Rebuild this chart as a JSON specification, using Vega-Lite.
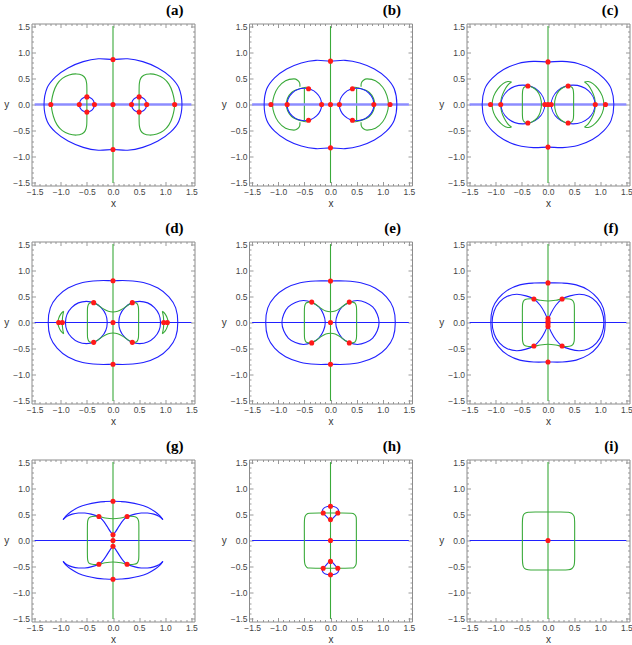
{
"$schema":"https://vega.github.io/schema/vega-lite/v6.json",
"padding":{"left":3.5,"top":2.5,"right":0,"bottom":0},
"data":{"values":[
{"p":"a","s":"h","k":3,"l":0,"x":-1.5,"y":0},{"p":"a","s":"h","k":3,"l":0,"x":1.5,"y":0},
{"p":"a","s":"v","k":2,"l":0,"x":0,"y":-1.5},{"p":"a","s":"v","k":2,"l":0,"x":0,"y":1.5},
{"p":"a","s":"o","k":1,"l":1,"x":1.32,"y":0},{"p":"a","s":"o","k":1,"l":1,"x":1.26,"y":0.32},{"p":"a","s":"o","k":1,"l":1,"x":1.10,"y":0.53},{"p":"a","s":"o","k":1,"l":1,"x":0.86,"y":0.70},{"p":"a","s":"o","k":1,"l":1,"x":0.57,"y":0.82},{"p":"a","s":"o","k":1,"l":1,"x":0.28,"y":0.875},{"p":"a","s":"o","k":1,"l":1,"x":0,"y":0.86},{"p":"a","s":"o","k":1,"l":1,"x":-0.28,"y":0.875},{"p":"a","s":"o","k":1,"l":1,"x":-0.57,"y":0.82},{"p":"a","s":"o","k":1,"l":1,"x":-0.86,"y":0.70},{"p":"a","s":"o","k":1,"l":1,"x":-1.10,"y":0.53},{"p":"a","s":"o","k":1,"l":1,"x":-1.26,"y":0.32},{"p":"a","s":"o","k":1,"l":1,"x":-1.32,"y":0},{"p":"a","s":"o","k":1,"l":1,"x":-1.26,"y":-0.32},{"p":"a","s":"o","k":1,"l":1,"x":-1.10,"y":-0.53},{"p":"a","s":"o","k":1,"l":1,"x":-0.86,"y":-0.70},{"p":"a","s":"o","k":1,"l":1,"x":-0.57,"y":-0.82},{"p":"a","s":"o","k":1,"l":1,"x":-0.28,"y":-0.875},{"p":"a","s":"o","k":1,"l":1,"x":0,"y":-0.86},{"p":"a","s":"o","k":1,"l":1,"x":0.28,"y":-0.875},{"p":"a","s":"o","k":1,"l":1,"x":0.57,"y":-0.82},{"p":"a","s":"o","k":1,"l":1,"x":0.86,"y":-0.70},{"p":"a","s":"o","k":1,"l":1,"x":1.10,"y":-0.53},{"p":"a","s":"o","k":1,"l":1,"x":1.26,"y":-0.32},
{"p":"a","s":"c1","k":1,"l":1,"x":-0.355,"y":0},{"p":"a","s":"c1","k":1,"l":1,"x":-0.374,"y":0.0725},{"p":"a","s":"c1","k":1,"l":1,"x":-0.4275,"y":0.1256},{"p":"a","s":"c1","k":1,"l":1,"x":-0.5,"y":0.145},{"p":"a","s":"c1","k":1,"l":1,"x":-0.5725,"y":0.1256},{"p":"a","s":"c1","k":1,"l":1,"x":-0.626,"y":0.0725},{"p":"a","s":"c1","k":1,"l":1,"x":-0.645,"y":0},{"p":"a","s":"c1","k":1,"l":1,"x":-0.626,"y":-0.0725},{"p":"a","s":"c1","k":1,"l":1,"x":-0.5725,"y":-0.1256},{"p":"a","s":"c1","k":1,"l":1,"x":-0.5,"y":-0.145},{"p":"a","s":"c1","k":1,"l":1,"x":-0.4275,"y":-0.1256},{"p":"a","s":"c1","k":1,"l":1,"x":-0.374,"y":-0.0725},
{"p":"a","s":"c2","k":1,"l":1,"x":0.645,"y":0},{"p":"a","s":"c2","k":1,"l":1,"x":0.626,"y":0.0725},{"p":"a","s":"c2","k":1,"l":1,"x":0.5725,"y":0.1256},{"p":"a","s":"c2","k":1,"l":1,"x":0.5,"y":0.145},{"p":"a","s":"c2","k":1,"l":1,"x":0.4275,"y":0.1256},{"p":"a","s":"c2","k":1,"l":1,"x":0.374,"y":0.0725},{"p":"a","s":"c2","k":1,"l":1,"x":0.355,"y":0},{"p":"a","s":"c2","k":1,"l":1,"x":0.374,"y":-0.0725},{"p":"a","s":"c2","k":1,"l":1,"x":0.4275,"y":-0.1256},{"p":"a","s":"c2","k":1,"l":1,"x":0.5,"y":-0.145},{"p":"a","s":"c2","k":1,"l":1,"x":0.5725,"y":-0.1256},{"p":"a","s":"c2","k":1,"l":1,"x":0.626,"y":-0.0725},
{"p":"a","s":"g1","k":2,"l":1,"x":0.5,"y":0},{"p":"a","s":"g1","k":2,"l":1,"x":0.5,"y":0.145},{"p":"a","s":"g1","k":2,"l":1,"x":0.5,"y":0.30},{"p":"a","s":"g1","k":2,"l":1,"x":0.505,"y":0.41},{"p":"a","s":"g1","k":2,"l":1,"x":0.53,"y":0.50},{"p":"a","s":"g1","k":2,"l":1,"x":0.59,"y":0.56},{"p":"a","s":"g1","k":2,"l":1,"x":0.70,"y":0.585},{"p":"a","s":"g1","k":2,"l":1,"x":0.84,"y":0.565},{"p":"a","s":"g1","k":2,"l":1,"x":0.97,"y":0.50},{"p":"a","s":"g1","k":2,"l":1,"x":1.07,"y":0.39},{"p":"a","s":"g1","k":2,"l":1,"x":1.14,"y":0.23},{"p":"a","s":"g1","k":2,"l":1,"x":1.18,"y":0},{"p":"a","s":"g1","k":2,"l":1,"x":1.14,"y":-0.23},{"p":"a","s":"g1","k":2,"l":1,"x":1.07,"y":-0.39},{"p":"a","s":"g1","k":2,"l":1,"x":0.97,"y":-0.50},{"p":"a","s":"g1","k":2,"l":1,"x":0.84,"y":-0.565},{"p":"a","s":"g1","k":2,"l":1,"x":0.70,"y":-0.585},{"p":"a","s":"g1","k":2,"l":1,"x":0.59,"y":-0.56},{"p":"a","s":"g1","k":2,"l":1,"x":0.53,"y":-0.50},{"p":"a","s":"g1","k":2,"l":1,"x":0.505,"y":-0.41},{"p":"a","s":"g1","k":2,"l":1,"x":0.5,"y":-0.30},{"p":"a","s":"g1","k":2,"l":1,"x":0.5,"y":-0.145},
{"p":"a","s":"g2","k":2,"l":1,"x":-0.5,"y":0},{"p":"a","s":"g2","k":2,"l":1,"x":-0.5,"y":0.145},{"p":"a","s":"g2","k":2,"l":1,"x":-0.5,"y":0.30},{"p":"a","s":"g2","k":2,"l":1,"x":-0.505,"y":0.41},{"p":"a","s":"g2","k":2,"l":1,"x":-0.53,"y":0.50},{"p":"a","s":"g2","k":2,"l":1,"x":-0.59,"y":0.56},{"p":"a","s":"g2","k":2,"l":1,"x":-0.70,"y":0.585},{"p":"a","s":"g2","k":2,"l":1,"x":-0.84,"y":0.565},{"p":"a","s":"g2","k":2,"l":1,"x":-0.97,"y":0.50},{"p":"a","s":"g2","k":2,"l":1,"x":-1.07,"y":0.39},{"p":"a","s":"g2","k":2,"l":1,"x":-1.14,"y":0.23},{"p":"a","s":"g2","k":2,"l":1,"x":-1.18,"y":0},{"p":"a","s":"g2","k":2,"l":1,"x":-1.14,"y":-0.23},{"p":"a","s":"g2","k":2,"l":1,"x":-1.07,"y":-0.39},{"p":"a","s":"g2","k":2,"l":1,"x":-0.97,"y":-0.50},{"p":"a","s":"g2","k":2,"l":1,"x":-0.84,"y":-0.565},{"p":"a","s":"g2","k":2,"l":1,"x":-0.70,"y":-0.585},{"p":"a","s":"g2","k":2,"l":1,"x":-0.59,"y":-0.56},{"p":"a","s":"g2","k":2,"l":1,"x":-0.53,"y":-0.50},{"p":"a","s":"g2","k":2,"l":1,"x":-0.505,"y":-0.41},{"p":"a","s":"g2","k":2,"l":1,"x":-0.5,"y":-0.30},{"p":"a","s":"g2","k":2,"l":1,"x":-0.5,"y":-0.145},
{"p":"a","k":0,"x":0,"y":0.86},{"p":"a","k":0,"x":0,"y":-0.86},{"p":"a","k":0,"x":0,"y":0},{"p":"a","k":0,"x":-1.19,"y":0},{"p":"a","k":0,"x":1.18,"y":0},{"p":"a","k":0,"x":-0.645,"y":0},{"p":"a","k":0,"x":-0.355,"y":0},{"p":"a","k":0,"x":0.355,"y":0},{"p":"a","k":0,"x":0.645,"y":0},{"p":"a","k":0,"x":-0.5,"y":0.145},{"p":"a","k":0,"x":-0.5,"y":-0.145},{"p":"a","k":0,"x":0.5,"y":0.145},{"p":"a","k":0,"x":0.5,"y":-0.145},

{"p":"b","s":"h","k":3,"l":0,"x":-1.5,"y":0},{"p":"b","s":"h","k":3,"l":0,"x":1.5,"y":0},
{"p":"b","s":"v","k":2,"l":0,"x":0,"y":-1.5},{"p":"b","s":"v","k":2,"l":0,"x":0,"y":1.5},
{"p":"b","s":"o","k":1,"l":1,"x":1.27,"y":0},{"p":"b","s":"o","k":1,"l":1,"x":1.22,"y":0.30},{"p":"b","s":"o","k":1,"l":1,"x":1.07,"y":0.51},{"p":"b","s":"o","k":1,"l":1,"x":0.84,"y":0.68},{"p":"b","s":"o","k":1,"l":1,"x":0.56,"y":0.795},{"p":"b","s":"o","k":1,"l":1,"x":0.28,"y":0.845},{"p":"b","s":"o","k":1,"l":1,"x":0,"y":0.83},{"p":"b","s":"o","k":1,"l":1,"x":-0.28,"y":0.845},{"p":"b","s":"o","k":1,"l":1,"x":-0.56,"y":0.795},{"p":"b","s":"o","k":1,"l":1,"x":-0.84,"y":0.68},{"p":"b","s":"o","k":1,"l":1,"x":-1.07,"y":0.51},{"p":"b","s":"o","k":1,"l":1,"x":-1.22,"y":0.30},{"p":"b","s":"o","k":1,"l":1,"x":-1.27,"y":0},{"p":"b","s":"o","k":1,"l":1,"x":-1.22,"y":-0.30},{"p":"b","s":"o","k":1,"l":1,"x":-1.07,"y":-0.51},{"p":"b","s":"o","k":1,"l":1,"x":-0.84,"y":-0.68},{"p":"b","s":"o","k":1,"l":1,"x":-0.56,"y":-0.795},{"p":"b","s":"o","k":1,"l":1,"x":-0.28,"y":-0.845},{"p":"b","s":"o","k":1,"l":1,"x":0,"y":-0.83},{"p":"b","s":"o","k":1,"l":1,"x":0.28,"y":-0.845},{"p":"b","s":"o","k":1,"l":1,"x":0.56,"y":-0.795},{"p":"b","s":"o","k":1,"l":1,"x":0.84,"y":-0.68},{"p":"b","s":"o","k":1,"l":1,"x":1.07,"y":-0.51},{"p":"b","s":"o","k":1,"l":1,"x":1.22,"y":-0.30},
{"p":"b","s":"c1","k":1,"l":1,"x":-0.17,"y":0},{"p":"b","s":"c1","k":1,"l":1,"x":-0.267,"y":0.219},{"p":"b","s":"c1","k":1,"l":1,"x":-0.5,"y":0.31},{"p":"b","s":"c1","k":1,"l":1,"x":-0.733,"y":0.219},{"p":"b","s":"c1","k":1,"l":1,"x":-0.83,"y":0},{"p":"b","s":"c1","k":1,"l":1,"x":-0.733,"y":-0.219},{"p":"b","s":"c1","k":1,"l":1,"x":-0.5,"y":-0.31},{"p":"b","s":"c1","k":1,"l":1,"x":-0.267,"y":-0.219},
{"p":"b","s":"c2","k":1,"l":1,"x":0.83,"y":0},{"p":"b","s":"c2","k":1,"l":1,"x":0.733,"y":0.219},{"p":"b","s":"c2","k":1,"l":1,"x":0.5,"y":0.31},{"p":"b","s":"c2","k":1,"l":1,"x":0.267,"y":0.219},{"p":"b","s":"c2","k":1,"l":1,"x":0.17,"y":0},{"p":"b","s":"c2","k":1,"l":1,"x":0.267,"y":-0.219},{"p":"b","s":"c2","k":1,"l":1,"x":0.5,"y":-0.31},{"p":"b","s":"c2","k":1,"l":1,"x":0.733,"y":-0.219},
{"p":"b","s":"d1","k":2,"l":0,"x":-0.5,"y":0.30},{"p":"b","s":"d1","k":2,"l":0,"x":-0.5,"y":-0.30},
{"p":"b","s":"d2","k":2,"l":0,"x":0.5,"y":0.30},{"p":"b","s":"d2","k":2,"l":0,"x":0.5,"y":-0.30},
{"p":"b","s":"e1","k":2,"l":0,"x":-0.42,"y":0.315},{"p":"b","s":"e1","k":2,"l":0,"x":-0.5,"y":0.325},{"p":"b","s":"e1","k":2,"l":0,"x":-0.744,"y":0.23},{"p":"b","s":"e1","k":2,"l":0,"x":-0.845,"y":0},{"p":"b","s":"e1","k":2,"l":0,"x":-0.744,"y":-0.23},{"p":"b","s":"e1","k":2,"l":0,"x":-0.5,"y":-0.325},{"p":"b","s":"e1","k":2,"l":0,"x":-0.42,"y":-0.315},
{"p":"b","s":"e2","k":2,"l":0,"x":0.42,"y":0.315},{"p":"b","s":"e2","k":2,"l":0,"x":0.5,"y":0.325},{"p":"b","s":"e2","k":2,"l":0,"x":0.744,"y":0.23},{"p":"b","s":"e2","k":2,"l":0,"x":0.845,"y":0},{"p":"b","s":"e2","k":2,"l":0,"x":0.744,"y":-0.23},{"p":"b","s":"e2","k":2,"l":0,"x":0.5,"y":-0.325},{"p":"b","s":"e2","k":2,"l":0,"x":0.42,"y":-0.315},
{"p":"b","s":"f1","k":2,"l":0,"x":-0.585,"y":0.34},{"p":"b","s":"f1","k":2,"l":0,"x":-0.59,"y":0.41},{"p":"b","s":"f1","k":2,"l":0,"x":-0.625,"y":0.46},{"p":"b","s":"f1","k":2,"l":0,"x":-0.70,"y":0.49},{"p":"b","s":"f1","k":2,"l":0,"x":-0.86,"y":0.455},{"p":"b","s":"f1","k":2,"l":0,"x":-1.00,"y":0.33},{"p":"b","s":"f1","k":2,"l":0,"x":-1.08,"y":0.17},{"p":"b","s":"f1","k":2,"l":0,"x":-1.11,"y":0},{"p":"b","s":"f1","k":2,"l":0,"x":-1.08,"y":-0.17},{"p":"b","s":"f1","k":2,"l":0,"x":-1.00,"y":-0.33},{"p":"b","s":"f1","k":2,"l":0,"x":-0.86,"y":-0.455},{"p":"b","s":"f1","k":2,"l":0,"x":-0.70,"y":-0.49},{"p":"b","s":"f1","k":2,"l":0,"x":-0.625,"y":-0.46},{"p":"b","s":"f1","k":2,"l":0,"x":-0.59,"y":-0.41},{"p":"b","s":"f1","k":2,"l":0,"x":-0.585,"y":-0.34},
{"p":"b","s":"f2","k":2,"l":0,"x":0.585,"y":0.34},{"p":"b","s":"f2","k":2,"l":0,"x":0.59,"y":0.41},{"p":"b","s":"f2","k":2,"l":0,"x":0.625,"y":0.46},{"p":"b","s":"f2","k":2,"l":0,"x":0.70,"y":0.49},{"p":"b","s":"f2","k":2,"l":0,"x":0.86,"y":0.455},{"p":"b","s":"f2","k":2,"l":0,"x":1.00,"y":0.33},{"p":"b","s":"f2","k":2,"l":0,"x":1.08,"y":0.17},{"p":"b","s":"f2","k":2,"l":0,"x":1.11,"y":0},{"p":"b","s":"f2","k":2,"l":0,"x":1.08,"y":-0.17},{"p":"b","s":"f2","k":2,"l":0,"x":1.00,"y":-0.33},{"p":"b","s":"f2","k":2,"l":0,"x":0.86,"y":-0.455},{"p":"b","s":"f2","k":2,"l":0,"x":0.70,"y":-0.49},{"p":"b","s":"f2","k":2,"l":0,"x":0.625,"y":-0.46},{"p":"b","s":"f2","k":2,"l":0,"x":0.59,"y":-0.41},{"p":"b","s":"f2","k":2,"l":0,"x":0.585,"y":-0.34},
{"p":"b","k":0,"x":0,"y":0.83},{"p":"b","k":0,"x":0,"y":-0.83},{"p":"b","k":0,"x":0,"y":0},{"p":"b","k":0,"x":-1.14,"y":0},{"p":"b","k":0,"x":1.14,"y":0},{"p":"b","k":0,"x":-0.83,"y":0},{"p":"b","k":0,"x":0.83,"y":0},{"p":"b","k":0,"x":-0.17,"y":0},{"p":"b","k":0,"x":0.17,"y":0},{"p":"b","k":0,"x":-0.42,"y":0.30},{"p":"b","k":0,"x":-0.42,"y":-0.30},{"p":"b","k":0,"x":0.42,"y":0.30},{"p":"b","k":0,"x":0.42,"y":-0.30},

{"p":"c","s":"h","k":3,"l":0,"x":-1.5,"y":0},{"p":"c","s":"h","k":3,"l":0,"x":1.5,"y":0},
{"p":"c","s":"v","k":2,"l":0,"x":0,"y":-1.5},{"p":"c","s":"v","k":2,"l":0,"x":0,"y":1.5},
{"p":"c","s":"o","k":1,"l":1,"x":1.26,"y":0},{"p":"c","s":"o","k":1,"l":1,"x":1.21,"y":0.30},{"p":"c","s":"o","k":1,"l":1,"x":1.07,"y":0.50},{"p":"c","s":"o","k":1,"l":1,"x":0.85,"y":0.67},{"p":"c","s":"o","k":1,"l":1,"x":0.57,"y":0.785},{"p":"c","s":"o","k":1,"l":1,"x":0.28,"y":0.825},{"p":"c","s":"o","k":1,"l":1,"x":0,"y":0.815},{"p":"c","s":"o","k":1,"l":1,"x":-0.28,"y":0.825},{"p":"c","s":"o","k":1,"l":1,"x":-0.57,"y":0.785},{"p":"c","s":"o","k":1,"l":1,"x":-0.85,"y":0.67},{"p":"c","s":"o","k":1,"l":1,"x":-1.07,"y":0.50},{"p":"c","s":"o","k":1,"l":1,"x":-1.21,"y":0.30},{"p":"c","s":"o","k":1,"l":1,"x":-1.26,"y":0},{"p":"c","s":"o","k":1,"l":1,"x":-1.21,"y":-0.30},{"p":"c","s":"o","k":1,"l":1,"x":-1.07,"y":-0.50},{"p":"c","s":"o","k":1,"l":1,"x":-0.85,"y":-0.67},{"p":"c","s":"o","k":1,"l":1,"x":-0.57,"y":-0.785},{"p":"c","s":"o","k":1,"l":1,"x":-0.28,"y":-0.825},{"p":"c","s":"o","k":1,"l":1,"x":0,"y":-0.815},{"p":"c","s":"o","k":1,"l":1,"x":0.28,"y":-0.825},{"p":"c","s":"o","k":1,"l":1,"x":0.57,"y":-0.785},{"p":"c","s":"o","k":1,"l":1,"x":0.85,"y":-0.67},{"p":"c","s":"o","k":1,"l":1,"x":1.07,"y":-0.50},{"p":"c","s":"o","k":1,"l":1,"x":1.21,"y":-0.30},
{"p":"c","s":"c1","k":1,"l":1,"x":-0.06,"y":0},{"p":"c","s":"c1","k":1,"l":1,"x":-0.183,"y":0.262},{"p":"c","s":"c1","k":1,"l":1,"x":-0.48,"y":0.37},{"p":"c","s":"c1","k":1,"l":1,"x":-0.777,"y":0.262},{"p":"c","s":"c1","k":1,"l":1,"x":-0.90,"y":0},{"p":"c","s":"c1","k":1,"l":1,"x":-0.777,"y":-0.262},{"p":"c","s":"c1","k":1,"l":1,"x":-0.48,"y":-0.37},{"p":"c","s":"c1","k":1,"l":1,"x":-0.183,"y":-0.262},
{"p":"c","s":"c2","k":1,"l":1,"x":0.90,"y":0},{"p":"c","s":"c2","k":1,"l":1,"x":0.777,"y":0.262},{"p":"c","s":"c2","k":1,"l":1,"x":0.48,"y":0.37},{"p":"c","s":"c2","k":1,"l":1,"x":0.183,"y":0.262},{"p":"c","s":"c2","k":1,"l":1,"x":0.06,"y":0},{"p":"c","s":"c2","k":1,"l":1,"x":0.183,"y":-0.262},{"p":"c","s":"c2","k":1,"l":1,"x":0.48,"y":-0.37},{"p":"c","s":"c2","k":1,"l":1,"x":0.777,"y":-0.262},
{"p":"c","s":"d1","k":2,"l":1,"x":-0.49,"y":0},{"p":"c","s":"d1","k":2,"l":1,"x":-0.49,"y":0.2},{"p":"c","s":"d1","k":2,"l":1,"x":-0.48,"y":0.29},{"p":"c","s":"d1","k":2,"l":1,"x":-0.45,"y":0.335},{"p":"c","s":"d1","k":2,"l":1,"x":-0.385,"y":0.355},{"p":"c","s":"d1","k":2,"l":1,"x":-0.30,"y":0.33},{"p":"c","s":"d1","k":2,"l":1,"x":-0.21,"y":0.26},{"p":"c","s":"d1","k":2,"l":1,"x":-0.15,"y":0.15},{"p":"c","s":"d1","k":2,"l":1,"x":-0.125,"y":0},{"p":"c","s":"d1","k":2,"l":1,"x":-0.15,"y":-0.15},{"p":"c","s":"d1","k":2,"l":1,"x":-0.21,"y":-0.26},{"p":"c","s":"d1","k":2,"l":1,"x":-0.30,"y":-0.33},{"p":"c","s":"d1","k":2,"l":1,"x":-0.385,"y":-0.355},{"p":"c","s":"d1","k":2,"l":1,"x":-0.45,"y":-0.335},{"p":"c","s":"d1","k":2,"l":1,"x":-0.48,"y":-0.29},{"p":"c","s":"d1","k":2,"l":1,"x":-0.49,"y":-0.2},
{"p":"c","s":"d2","k":2,"l":1,"x":0.49,"y":0},{"p":"c","s":"d2","k":2,"l":1,"x":0.49,"y":0.2},{"p":"c","s":"d2","k":2,"l":1,"x":0.48,"y":0.29},{"p":"c","s":"d2","k":2,"l":1,"x":0.45,"y":0.335},{"p":"c","s":"d2","k":2,"l":1,"x":0.385,"y":0.355},{"p":"c","s":"d2","k":2,"l":1,"x":0.30,"y":0.33},{"p":"c","s":"d2","k":2,"l":1,"x":0.21,"y":0.26},{"p":"c","s":"d2","k":2,"l":1,"x":0.15,"y":0.15},{"p":"c","s":"d2","k":2,"l":1,"x":0.125,"y":0},{"p":"c","s":"d2","k":2,"l":1,"x":0.15,"y":-0.15},{"p":"c","s":"d2","k":2,"l":1,"x":0.21,"y":-0.26},{"p":"c","s":"d2","k":2,"l":1,"x":0.30,"y":-0.33},{"p":"c","s":"d2","k":2,"l":1,"x":0.385,"y":-0.355},{"p":"c","s":"d2","k":2,"l":1,"x":0.45,"y":-0.335},{"p":"c","s":"d2","k":2,"l":1,"x":0.48,"y":-0.29},{"p":"c","s":"d2","k":2,"l":1,"x":0.49,"y":-0.2},
{"p":"c","s":"f1","k":2,"l":0,"x":-0.70,"y":0.43},{"p":"c","s":"f1","k":2,"l":0,"x":-0.77,"y":0.44},{"p":"c","s":"f1","k":2,"l":0,"x":-0.86,"y":0.40},{"p":"c","s":"f1","k":2,"l":0,"x":-0.96,"y":0.30},{"p":"c","s":"f1","k":2,"l":0,"x":-1.04,"y":0.16},{"p":"c","s":"f1","k":2,"l":0,"x":-1.07,"y":0},{"p":"c","s":"f1","k":2,"l":0,"x":-1.04,"y":-0.16},{"p":"c","s":"f1","k":2,"l":0,"x":-0.96,"y":-0.30},{"p":"c","s":"f1","k":2,"l":0,"x":-0.86,"y":-0.40},{"p":"c","s":"f1","k":2,"l":0,"x":-0.77,"y":-0.44},{"p":"c","s":"f1","k":2,"l":0,"x":-0.70,"y":-0.43},
{"p":"c","s":"e1","k":2,"l":0,"x":-0.70,"y":0.43},{"p":"c","s":"e1","k":2,"l":0,"x":-0.77,"y":0.37},{"p":"c","s":"e1","k":2,"l":0,"x":-0.84,"y":0.26},{"p":"c","s":"e1","k":2,"l":0,"x":-0.89,"y":0.13},{"p":"c","s":"e1","k":2,"l":0,"x":-0.905,"y":0},{"p":"c","s":"e1","k":2,"l":0,"x":-0.89,"y":-0.13},{"p":"c","s":"e1","k":2,"l":0,"x":-0.84,"y":-0.26},{"p":"c","s":"e1","k":2,"l":0,"x":-0.77,"y":-0.37},{"p":"c","s":"e1","k":2,"l":0,"x":-0.70,"y":-0.43},
{"p":"c","s":"f2","k":2,"l":0,"x":0.70,"y":0.43},{"p":"c","s":"f2","k":2,"l":0,"x":0.77,"y":0.44},{"p":"c","s":"f2","k":2,"l":0,"x":0.86,"y":0.40},{"p":"c","s":"f2","k":2,"l":0,"x":0.96,"y":0.30},{"p":"c","s":"f2","k":2,"l":0,"x":1.04,"y":0.16},{"p":"c","s":"f2","k":2,"l":0,"x":1.07,"y":0},{"p":"c","s":"f2","k":2,"l":0,"x":1.04,"y":-0.16},{"p":"c","s":"f2","k":2,"l":0,"x":0.96,"y":-0.30},{"p":"c","s":"f2","k":2,"l":0,"x":0.86,"y":-0.40},{"p":"c","s":"f2","k":2,"l":0,"x":0.77,"y":-0.44},{"p":"c","s":"f2","k":2,"l":0,"x":0.70,"y":-0.43},
{"p":"c","s":"e2","k":2,"l":0,"x":0.70,"y":0.43},{"p":"c","s":"e2","k":2,"l":0,"x":0.77,"y":0.37},{"p":"c","s":"e2","k":2,"l":0,"x":0.84,"y":0.26},{"p":"c","s":"e2","k":2,"l":0,"x":0.89,"y":0.13},{"p":"c","s":"e2","k":2,"l":0,"x":0.905,"y":0},{"p":"c","s":"e2","k":2,"l":0,"x":0.89,"y":-0.13},{"p":"c","s":"e2","k":2,"l":0,"x":0.84,"y":-0.26},{"p":"c","s":"e2","k":2,"l":0,"x":0.77,"y":-0.37},{"p":"c","s":"e2","k":2,"l":0,"x":0.70,"y":-0.43},
{"p":"c","k":0,"x":0,"y":0.815},{"p":"c","k":0,"x":0,"y":-0.815},{"p":"c","k":0,"x":0,"y":0},{"p":"c","k":0,"x":-0.06,"y":0},{"p":"c","k":0,"x":0.06,"y":0},{"p":"c","k":0,"x":-0.905,"y":0},{"p":"c","k":0,"x":0.905,"y":0},{"p":"c","k":0,"x":-1.10,"y":0},{"p":"c","k":0,"x":1.10,"y":0},{"p":"c","k":0,"x":-0.385,"y":0.355},{"p":"c","k":0,"x":-0.385,"y":-0.355},{"p":"c","k":0,"x":0.385,"y":0.355},{"p":"c","k":0,"x":0.385,"y":-0.355},

{"p":"d","s":"h","k":1,"l":0,"x":-1.5,"y":0},{"p":"d","s":"h","k":1,"l":0,"x":1.5,"y":0},
{"p":"d","s":"v","k":2,"l":0,"x":0,"y":-1.5},{"p":"d","s":"v","k":2,"l":0,"x":0,"y":1.5},
{"p":"d","s":"o","k":1,"l":1,"x":1.24,"y":0},{"p":"d","s":"o","k":1,"l":1,"x":1.20,"y":0.28},{"p":"d","s":"o","k":1,"l":1,"x":1.07,"y":0.49},{"p":"d","s":"o","k":1,"l":1,"x":0.86,"y":0.66},{"p":"d","s":"o","k":1,"l":1,"x":0.58,"y":0.765},{"p":"d","s":"o","k":1,"l":1,"x":0.28,"y":0.80},{"p":"d","s":"o","k":1,"l":1,"x":0,"y":0.80},{"p":"d","s":"o","k":1,"l":1,"x":-0.28,"y":0.80},{"p":"d","s":"o","k":1,"l":1,"x":-0.58,"y":0.765},{"p":"d","s":"o","k":1,"l":1,"x":-0.86,"y":0.66},{"p":"d","s":"o","k":1,"l":1,"x":-1.07,"y":0.49},{"p":"d","s":"o","k":1,"l":1,"x":-1.20,"y":0.28},{"p":"d","s":"o","k":1,"l":1,"x":-1.24,"y":0},{"p":"d","s":"o","k":1,"l":1,"x":-1.20,"y":-0.28},{"p":"d","s":"o","k":1,"l":1,"x":-1.07,"y":-0.49},{"p":"d","s":"o","k":1,"l":1,"x":-0.86,"y":-0.66},{"p":"d","s":"o","k":1,"l":1,"x":-0.58,"y":-0.765},{"p":"d","s":"o","k":1,"l":1,"x":-0.28,"y":-0.80},{"p":"d","s":"o","k":1,"l":1,"x":0,"y":-0.80},{"p":"d","s":"o","k":1,"l":1,"x":0.28,"y":-0.80},{"p":"d","s":"o","k":1,"l":1,"x":0.58,"y":-0.765},{"p":"d","s":"o","k":1,"l":1,"x":0.86,"y":-0.66},{"p":"d","s":"o","k":1,"l":1,"x":1.07,"y":-0.49},{"p":"d","s":"o","k":1,"l":1,"x":1.20,"y":-0.28},
{"p":"d","s":"c1","k":1,"l":1,"x":-0.11,"y":0},{"p":"d","s":"c1","k":1,"l":1,"x":-0.227,"y":0.286},{"p":"d","s":"c1","k":1,"l":1,"x":-0.51,"y":0.405},{"p":"d","s":"c1","k":1,"l":1,"x":-0.793,"y":0.286},{"p":"d","s":"c1","k":1,"l":1,"x":-0.91,"y":0},{"p":"d","s":"c1","k":1,"l":1,"x":-0.793,"y":-0.286},{"p":"d","s":"c1","k":1,"l":1,"x":-0.51,"y":-0.405},{"p":"d","s":"c1","k":1,"l":1,"x":-0.227,"y":-0.286},
{"p":"d","s":"c2","k":1,"l":1,"x":0.91,"y":0},{"p":"d","s":"c2","k":1,"l":1,"x":0.793,"y":0.286},{"p":"d","s":"c2","k":1,"l":1,"x":0.51,"y":0.405},{"p":"d","s":"c2","k":1,"l":1,"x":0.227,"y":0.286},{"p":"d","s":"c2","k":1,"l":1,"x":0.11,"y":0},{"p":"d","s":"c2","k":1,"l":1,"x":0.227,"y":-0.286},{"p":"d","s":"c2","k":1,"l":1,"x":0.51,"y":-0.405},{"p":"d","s":"c2","k":1,"l":1,"x":0.793,"y":-0.286},
{"p":"d","s":"g","k":2,"l":1,"x":-0.49,"y":0},{"p":"d","s":"g","k":2,"l":1,"x":-0.49,"y":0.20},{"p":"d","s":"g","k":2,"l":1,"x":-0.485,"y":0.30},{"p":"d","s":"g","k":2,"l":1,"x":-0.46,"y":0.36},{"p":"d","s":"g","k":2,"l":1,"x":-0.42,"y":0.38},{"p":"d","s":"g","k":2,"l":1,"x":-0.37,"y":0.38},{"p":"d","s":"g","k":2,"l":1,"x":-0.29,"y":0.335},{"p":"d","s":"g","k":2,"l":1,"x":-0.19,"y":0.265},{"p":"d","s":"g","k":2,"l":1,"x":-0.09,"y":0.215},{"p":"d","s":"g","k":2,"l":1,"x":0,"y":0.20},{"p":"d","s":"g","k":2,"l":1,"x":0.09,"y":0.215},{"p":"d","s":"g","k":2,"l":1,"x":0.19,"y":0.265},{"p":"d","s":"g","k":2,"l":1,"x":0.29,"y":0.335},{"p":"d","s":"g","k":2,"l":1,"x":0.37,"y":0.38},{"p":"d","s":"g","k":2,"l":1,"x":0.42,"y":0.38},{"p":"d","s":"g","k":2,"l":1,"x":0.46,"y":0.36},{"p":"d","s":"g","k":2,"l":1,"x":0.485,"y":0.30},{"p":"d","s":"g","k":2,"l":1,"x":0.49,"y":0.20},{"p":"d","s":"g","k":2,"l":1,"x":0.49,"y":0},{"p":"d","s":"g","k":2,"l":1,"x":0.49,"y":-0.20},{"p":"d","s":"g","k":2,"l":1,"x":0.485,"y":-0.30},{"p":"d","s":"g","k":2,"l":1,"x":0.46,"y":-0.36},{"p":"d","s":"g","k":2,"l":1,"x":0.42,"y":-0.38},{"p":"d","s":"g","k":2,"l":1,"x":0.37,"y":-0.38},{"p":"d","s":"g","k":2,"l":1,"x":0.29,"y":-0.335},{"p":"d","s":"g","k":2,"l":1,"x":0.19,"y":-0.265},{"p":"d","s":"g","k":2,"l":1,"x":0.09,"y":-0.215},{"p":"d","s":"g","k":2,"l":1,"x":0,"y":-0.20},{"p":"d","s":"g","k":2,"l":1,"x":-0.09,"y":-0.215},{"p":"d","s":"g","k":2,"l":1,"x":-0.19,"y":-0.265},{"p":"d","s":"g","k":2,"l":1,"x":-0.29,"y":-0.335},{"p":"d","s":"g","k":2,"l":1,"x":-0.37,"y":-0.38},{"p":"d","s":"g","k":2,"l":1,"x":-0.42,"y":-0.38},{"p":"d","s":"g","k":2,"l":1,"x":-0.46,"y":-0.36},{"p":"d","s":"g","k":2,"l":1,"x":-0.485,"y":-0.30},{"p":"d","s":"g","k":2,"l":1,"x":-0.49,"y":-0.20},
{"p":"d","s":"f1","k":2,"l":0,"x":-0.945,"y":0.215},{"p":"d","s":"f1","k":2,"l":0,"x":-1.00,"y":0.16},{"p":"d","s":"f1","k":2,"l":0,"x":-1.04,"y":0.08},{"p":"d","s":"f1","k":2,"l":0,"x":-1.055,"y":0},{"p":"d","s":"f1","k":2,"l":0,"x":-1.04,"y":-0.08},{"p":"d","s":"f1","k":2,"l":0,"x":-1.00,"y":-0.16},{"p":"d","s":"f1","k":2,"l":0,"x":-0.945,"y":-0.215},
{"p":"d","s":"e1","k":2,"l":0,"x":-0.945,"y":0.215},{"p":"d","s":"e1","k":2,"l":0,"x":-0.965,"y":0.11},{"p":"d","s":"e1","k":2,"l":0,"x":-0.97,"y":0},{"p":"d","s":"e1","k":2,"l":0,"x":-0.965,"y":-0.11},{"p":"d","s":"e1","k":2,"l":0,"x":-0.945,"y":-0.215},
{"p":"d","s":"f2","k":2,"l":0,"x":0.945,"y":0.215},{"p":"d","s":"f2","k":2,"l":0,"x":1.00,"y":0.16},{"p":"d","s":"f2","k":2,"l":0,"x":1.04,"y":0.08},{"p":"d","s":"f2","k":2,"l":0,"x":1.055,"y":0},{"p":"d","s":"f2","k":2,"l":0,"x":1.04,"y":-0.08},{"p":"d","s":"f2","k":2,"l":0,"x":1.00,"y":-0.16},{"p":"d","s":"f2","k":2,"l":0,"x":0.945,"y":-0.215},
{"p":"d","s":"e2","k":2,"l":0,"x":0.945,"y":0.215},{"p":"d","s":"e2","k":2,"l":0,"x":0.965,"y":0.11},{"p":"d","s":"e2","k":2,"l":0,"x":0.97,"y":0},{"p":"d","s":"e2","k":2,"l":0,"x":0.965,"y":-0.11},{"p":"d","s":"e2","k":2,"l":0,"x":0.945,"y":-0.215},
{"p":"d","k":0,"x":0,"y":0.80},{"p":"d","k":0,"x":0,"y":-0.80},{"p":"d","k":0,"x":0,"y":0},{"p":"d","k":0,"x":-1.04,"y":0},{"p":"d","k":0,"x":-0.97,"y":0},{"p":"d","k":0,"x":0.97,"y":0},{"p":"d","k":0,"x":1.04,"y":0},{"p":"d","k":0,"x":-0.37,"y":0.38},{"p":"d","k":0,"x":0.37,"y":0.38},{"p":"d","k":0,"x":-0.37,"y":-0.38},{"p":"d","k":0,"x":0.37,"y":-0.38},

{"p":"e","s":"h","k":1,"l":0,"x":-1.5,"y":0},{"p":"e","s":"h","k":1,"l":0,"x":1.5,"y":0},
{"p":"e","s":"v","k":2,"l":0,"x":0,"y":-1.5},{"p":"e","s":"v","k":2,"l":0,"x":0,"y":1.5},
{"p":"e","s":"o","k":1,"l":1,"x":1.24,"y":0},{"p":"e","s":"o","k":1,"l":1,"x":1.20,"y":0.28},{"p":"e","s":"o","k":1,"l":1,"x":1.07,"y":0.49},{"p":"e","s":"o","k":1,"l":1,"x":0.86,"y":0.655},{"p":"e","s":"o","k":1,"l":1,"x":0.58,"y":0.76},{"p":"e","s":"o","k":1,"l":1,"x":0.28,"y":0.795},{"p":"e","s":"o","k":1,"l":1,"x":0,"y":0.795},{"p":"e","s":"o","k":1,"l":1,"x":-0.28,"y":0.795},{"p":"e","s":"o","k":1,"l":1,"x":-0.58,"y":0.76},{"p":"e","s":"o","k":1,"l":1,"x":-0.86,"y":0.655},{"p":"e","s":"o","k":1,"l":1,"x":-1.07,"y":0.49},{"p":"e","s":"o","k":1,"l":1,"x":-1.20,"y":0.28},{"p":"e","s":"o","k":1,"l":1,"x":-1.24,"y":0},{"p":"e","s":"o","k":1,"l":1,"x":-1.20,"y":-0.28},{"p":"e","s":"o","k":1,"l":1,"x":-1.07,"y":-0.49},{"p":"e","s":"o","k":1,"l":1,"x":-0.86,"y":-0.655},{"p":"e","s":"o","k":1,"l":1,"x":-0.58,"y":-0.76},{"p":"e","s":"o","k":1,"l":1,"x":-0.28,"y":-0.80},{"p":"e","s":"o","k":1,"l":1,"x":0,"y":-0.80},{"p":"e","s":"o","k":1,"l":1,"x":0.28,"y":-0.80},{"p":"e","s":"o","k":1,"l":1,"x":0.58,"y":-0.76},{"p":"e","s":"o","k":1,"l":1,"x":0.86,"y":-0.655},{"p":"e","s":"o","k":1,"l":1,"x":1.07,"y":-0.49},{"p":"e","s":"o","k":1,"l":1,"x":1.20,"y":-0.28},
{"p":"e","s":"c1","k":1,"l":1,"x":-0.10,"y":0},{"p":"e","s":"c1","k":1,"l":1,"x":-0.222,"y":0.297},{"p":"e","s":"c1","k":1,"l":1,"x":-0.515,"y":0.42},{"p":"e","s":"c1","k":1,"l":1,"x":-0.808,"y":0.297},{"p":"e","s":"c1","k":1,"l":1,"x":-0.93,"y":0},{"p":"e","s":"c1","k":1,"l":1,"x":-0.808,"y":-0.297},{"p":"e","s":"c1","k":1,"l":1,"x":-0.515,"y":-0.42},{"p":"e","s":"c1","k":1,"l":1,"x":-0.222,"y":-0.297},
{"p":"e","s":"c2","k":1,"l":1,"x":0.93,"y":0},{"p":"e","s":"c2","k":1,"l":1,"x":0.808,"y":0.297},{"p":"e","s":"c2","k":1,"l":1,"x":0.515,"y":0.42},{"p":"e","s":"c2","k":1,"l":1,"x":0.222,"y":0.297},{"p":"e","s":"c2","k":1,"l":1,"x":0.10,"y":0},{"p":"e","s":"c2","k":1,"l":1,"x":0.222,"y":-0.297},{"p":"e","s":"c2","k":1,"l":1,"x":0.515,"y":-0.42},{"p":"e","s":"c2","k":1,"l":1,"x":0.808,"y":-0.297},
{"p":"e","s":"g","k":2,"l":1,"x":-0.50,"y":0},{"p":"e","s":"g","k":2,"l":1,"x":-0.50,"y":0.20},{"p":"e","s":"g","k":2,"l":1,"x":-0.495,"y":0.31},{"p":"e","s":"g","k":2,"l":1,"x":-0.47,"y":0.37},{"p":"e","s":"g","k":2,"l":1,"x":-0.42,"y":0.39},{"p":"e","s":"g","k":2,"l":1,"x":-0.36,"y":0.39},{"p":"e","s":"g","k":2,"l":1,"x":-0.28,"y":0.345},{"p":"e","s":"g","k":2,"l":1,"x":-0.18,"y":0.27},{"p":"e","s":"g","k":2,"l":1,"x":-0.09,"y":0.22},{"p":"e","s":"g","k":2,"l":1,"x":0,"y":0.205},{"p":"e","s":"g","k":2,"l":1,"x":0.09,"y":0.22},{"p":"e","s":"g","k":2,"l":1,"x":0.18,"y":0.27},{"p":"e","s":"g","k":2,"l":1,"x":0.28,"y":0.345},{"p":"e","s":"g","k":2,"l":1,"x":0.36,"y":0.39},{"p":"e","s":"g","k":2,"l":1,"x":0.42,"y":0.39},{"p":"e","s":"g","k":2,"l":1,"x":0.47,"y":0.37},{"p":"e","s":"g","k":2,"l":1,"x":0.495,"y":0.31},{"p":"e","s":"g","k":2,"l":1,"x":0.50,"y":0.20},{"p":"e","s":"g","k":2,"l":1,"x":0.50,"y":0},{"p":"e","s":"g","k":2,"l":1,"x":0.50,"y":-0.20},{"p":"e","s":"g","k":2,"l":1,"x":0.495,"y":-0.31},{"p":"e","s":"g","k":2,"l":1,"x":0.47,"y":-0.37},{"p":"e","s":"g","k":2,"l":1,"x":0.42,"y":-0.39},{"p":"e","s":"g","k":2,"l":1,"x":0.36,"y":-0.39},{"p":"e","s":"g","k":2,"l":1,"x":0.28,"y":-0.345},{"p":"e","s":"g","k":2,"l":1,"x":0.18,"y":-0.27},{"p":"e","s":"g","k":2,"l":1,"x":0.09,"y":-0.22},{"p":"e","s":"g","k":2,"l":1,"x":0,"y":-0.205},{"p":"e","s":"g","k":2,"l":1,"x":-0.09,"y":-0.22},{"p":"e","s":"g","k":2,"l":1,"x":-0.18,"y":-0.27},{"p":"e","s":"g","k":2,"l":1,"x":-0.28,"y":-0.345},{"p":"e","s":"g","k":2,"l":1,"x":-0.36,"y":-0.39},{"p":"e","s":"g","k":2,"l":1,"x":-0.42,"y":-0.39},{"p":"e","s":"g","k":2,"l":1,"x":-0.47,"y":-0.37},{"p":"e","s":"g","k":2,"l":1,"x":-0.495,"y":-0.31},{"p":"e","s":"g","k":2,"l":1,"x":-0.50,"y":-0.20},
{"p":"e","k":0,"x":0,"y":0.795},{"p":"e","k":0,"x":0,"y":-0.80},{"p":"e","k":0,"x":0,"y":0},{"p":"e","k":0,"x":-0.36,"y":0.39},{"p":"e","k":0,"x":0.36,"y":0.39},{"p":"e","k":0,"x":-0.36,"y":-0.39},{"p":"e","k":0,"x":0.36,"y":-0.39},

{"p":"f","s":"h","k":1,"l":0,"x":-1.5,"y":0},{"p":"f","s":"h","k":1,"l":0,"x":1.5,"y":0},
{"p":"f","s":"v","k":2,"l":0,"x":0,"y":-1.5},{"p":"f","s":"v","k":2,"l":0,"x":0,"y":1.5},
{"p":"f","s":"o","k":1,"l":1,"x":1.095,"y":0},{"p":"f","s":"o","k":1,"l":1,"x":1.06,"y":0.27},{"p":"f","s":"o","k":1,"l":1,"x":0.95,"y":0.46},{"p":"f","s":"o","k":1,"l":1,"x":0.78,"y":0.615},{"p":"f","s":"o","k":1,"l":1,"x":0.54,"y":0.72},{"p":"f","s":"o","k":1,"l":1,"x":0.27,"y":0.755},{"p":"f","s":"o","k":1,"l":1,"x":0,"y":0.758},{"p":"f","s":"o","k":1,"l":1,"x":-0.27,"y":0.755},{"p":"f","s":"o","k":1,"l":1,"x":-0.54,"y":0.72},{"p":"f","s":"o","k":1,"l":1,"x":-0.78,"y":0.615},{"p":"f","s":"o","k":1,"l":1,"x":-0.95,"y":0.46},{"p":"f","s":"o","k":1,"l":1,"x":-1.06,"y":0.27},{"p":"f","s":"o","k":1,"l":1,"x":-1.095,"y":0},{"p":"f","s":"o","k":1,"l":1,"x":-1.06,"y":-0.27},{"p":"f","s":"o","k":1,"l":1,"x":-0.95,"y":-0.46},{"p":"f","s":"o","k":1,"l":1,"x":-0.78,"y":-0.615},{"p":"f","s":"o","k":1,"l":1,"x":-0.54,"y":-0.72},{"p":"f","s":"o","k":1,"l":1,"x":-0.27,"y":-0.755},{"p":"f","s":"o","k":1,"l":1,"x":0,"y":-0.755},{"p":"f","s":"o","k":1,"l":1,"x":0.27,"y":-0.755},{"p":"f","s":"o","k":1,"l":1,"x":0.54,"y":-0.72},{"p":"f","s":"o","k":1,"l":1,"x":0.78,"y":-0.615},{"p":"f","s":"o","k":1,"l":1,"x":0.95,"y":-0.46},{"p":"f","s":"o","k":1,"l":1,"x":1.06,"y":-0.27},
{"p":"f","s":"c1","k":1,"l":1,"x":-1.07,"y":0},{"p":"f","s":"c1","k":1,"l":1,"x":-1.03,"y":0.22},{"p":"f","s":"c1","k":1,"l":1,"x":-0.93,"y":0.39},{"p":"f","s":"c1","k":1,"l":1,"x":-0.78,"y":0.50},{"p":"f","s":"c1","k":1,"l":1,"x":-0.60,"y":0.54},{"p":"f","s":"c1","k":1,"l":1,"x":-0.42,"y":0.51},{"p":"f","s":"c1","k":1,"l":1,"x":-0.27,"y":0.45},{"p":"f","s":"c1","k":1,"l":1,"x":-0.15,"y":0.33},{"p":"f","s":"c1","k":1,"l":1,"x":-0.06,"y":0.18},{"p":"f","s":"c1","k":1,"l":1,"x":-0.01,"y":0.06},{"p":"f","s":"c1","k":1,"l":1,"x":0,"y":0},{"p":"f","s":"c1","k":1,"l":1,"x":-0.01,"y":-0.06},{"p":"f","s":"c1","k":1,"l":1,"x":-0.06,"y":-0.18},{"p":"f","s":"c1","k":1,"l":1,"x":-0.15,"y":-0.33},{"p":"f","s":"c1","k":1,"l":1,"x":-0.27,"y":-0.45},{"p":"f","s":"c1","k":1,"l":1,"x":-0.42,"y":-0.51},{"p":"f","s":"c1","k":1,"l":1,"x":-0.60,"y":-0.54},{"p":"f","s":"c1","k":1,"l":1,"x":-0.78,"y":-0.50},{"p":"f","s":"c1","k":1,"l":1,"x":-0.93,"y":-0.39},{"p":"f","s":"c1","k":1,"l":1,"x":-1.03,"y":-0.22},
{"p":"f","s":"c2","k":1,"l":1,"x":1.07,"y":0},{"p":"f","s":"c2","k":1,"l":1,"x":1.03,"y":0.22},{"p":"f","s":"c2","k":1,"l":1,"x":0.93,"y":0.39},{"p":"f","s":"c2","k":1,"l":1,"x":0.78,"y":0.50},{"p":"f","s":"c2","k":1,"l":1,"x":0.60,"y":0.54},{"p":"f","s":"c2","k":1,"l":1,"x":0.42,"y":0.51},{"p":"f","s":"c2","k":1,"l":1,"x":0.27,"y":0.45},{"p":"f","s":"c2","k":1,"l":1,"x":0.15,"y":0.33},{"p":"f","s":"c2","k":1,"l":1,"x":0.06,"y":0.18},{"p":"f","s":"c2","k":1,"l":1,"x":0.01,"y":0.06},{"p":"f","s":"c2","k":1,"l":1,"x":0,"y":0},{"p":"f","s":"c2","k":1,"l":1,"x":0.01,"y":-0.06},{"p":"f","s":"c2","k":1,"l":1,"x":0.06,"y":-0.18},{"p":"f","s":"c2","k":1,"l":1,"x":0.15,"y":-0.33},{"p":"f","s":"c2","k":1,"l":1,"x":0.27,"y":-0.45},{"p":"f","s":"c2","k":1,"l":1,"x":0.42,"y":-0.51},{"p":"f","s":"c2","k":1,"l":1,"x":0.60,"y":-0.54},{"p":"f","s":"c2","k":1,"l":1,"x":0.78,"y":-0.50},{"p":"f","s":"c2","k":1,"l":1,"x":0.93,"y":-0.39},{"p":"f","s":"c2","k":1,"l":1,"x":1.03,"y":-0.22},
{"p":"f","s":"g","k":2,"l":1,"x":-0.49,"y":0},{"p":"f","s":"g","k":2,"l":1,"x":-0.49,"y":0.25},{"p":"f","s":"g","k":2,"l":1,"x":-0.485,"y":0.36},{"p":"f","s":"g","k":2,"l":1,"x":-0.46,"y":0.425},{"p":"f","s":"g","k":2,"l":1,"x":-0.40,"y":0.45},{"p":"f","s":"g","k":2,"l":1,"x":-0.27,"y":0.45},{"p":"f","s":"g","k":2,"l":1,"x":-0.15,"y":0.425},{"p":"f","s":"g","k":2,"l":1,"x":0,"y":0.41},{"p":"f","s":"g","k":2,"l":1,"x":0.15,"y":0.425},{"p":"f","s":"g","k":2,"l":1,"x":0.27,"y":0.45},{"p":"f","s":"g","k":2,"l":1,"x":0.41,"y":0.45},{"p":"f","s":"g","k":2,"l":1,"x":0.47,"y":0.425},{"p":"f","s":"g","k":2,"l":1,"x":0.50,"y":0.36},{"p":"f","s":"g","k":2,"l":1,"x":0.505,"y":0.25},{"p":"f","s":"g","k":2,"l":1,"x":0.505,"y":0},{"p":"f","s":"g","k":2,"l":1,"x":0.505,"y":-0.25},{"p":"f","s":"g","k":2,"l":1,"x":0.50,"y":-0.36},{"p":"f","s":"g","k":2,"l":1,"x":0.47,"y":-0.43},{"p":"f","s":"g","k":2,"l":1,"x":0.41,"y":-0.455},{"p":"f","s":"g","k":2,"l":1,"x":0.27,"y":-0.455},{"p":"f","s":"g","k":2,"l":1,"x":0.15,"y":-0.43},{"p":"f","s":"g","k":2,"l":1,"x":0,"y":-0.415},{"p":"f","s":"g","k":2,"l":1,"x":-0.15,"y":-0.43},{"p":"f","s":"g","k":2,"l":1,"x":-0.27,"y":-0.455},{"p":"f","s":"g","k":2,"l":1,"x":-0.40,"y":-0.455},{"p":"f","s":"g","k":2,"l":1,"x":-0.46,"y":-0.43},{"p":"f","s":"g","k":2,"l":1,"x":-0.485,"y":-0.36},{"p":"f","s":"g","k":2,"l":1,"x":-0.49,"y":-0.25},
{"p":"f","k":0,"x":0,"y":0.758},{"p":"f","k":0,"x":0,"y":-0.755},{"p":"f","k":0,"x":-0.27,"y":0.45},{"p":"f","k":0,"x":0.27,"y":0.45},{"p":"f","k":0,"x":-0.27,"y":-0.45},{"p":"f","k":0,"x":0.27,"y":-0.45},{"p":"f","k":0,"x":0,"y":0.075},{"p":"f","k":0,"x":0,"y":0.025},{"p":"f","k":0,"x":0,"y":-0.025},{"p":"f","k":0,"x":0,"y":-0.075},

{"p":"g","s":"h","k":1,"l":0,"x":-1.5,"y":0},{"p":"g","s":"h","k":1,"l":0,"x":1.5,"y":0},
{"p":"g","s":"v","k":2,"l":0,"x":0,"y":-1.5},{"p":"g","s":"v","k":2,"l":0,"x":0,"y":1.5},
{"p":"g","s":"t1","k":1,"l":0,"x":-0.955,"y":0.40},{"p":"g","s":"t1","k":1,"l":0,"x":-0.90,"y":0.47},{"p":"g","s":"t1","k":1,"l":0,"x":-0.80,"y":0.555},{"p":"g","s":"t1","k":1,"l":0,"x":-0.66,"y":0.635},{"p":"g","s":"t1","k":1,"l":0,"x":-0.50,"y":0.69},{"p":"g","s":"t1","k":1,"l":0,"x":-0.30,"y":0.73},{"p":"g","s":"t1","k":1,"l":0,"x":-0.15,"y":0.745},{"p":"g","s":"t1","k":1,"l":0,"x":0,"y":0.75},{"p":"g","s":"t1","k":1,"l":0,"x":0.15,"y":0.745},{"p":"g","s":"t1","k":1,"l":0,"x":0.30,"y":0.73},{"p":"g","s":"t1","k":1,"l":0,"x":0.50,"y":0.69},{"p":"g","s":"t1","k":1,"l":0,"x":0.66,"y":0.635},{"p":"g","s":"t1","k":1,"l":0,"x":0.80,"y":0.555},{"p":"g","s":"t1","k":1,"l":0,"x":0.90,"y":0.47},{"p":"g","s":"t1","k":1,"l":0,"x":0.955,"y":0.40},
{"p":"g","s":"t2","k":1,"l":0,"x":-0.955,"y":0.40},{"p":"g","s":"t2","k":1,"l":0,"x":-0.88,"y":0.465},{"p":"g","s":"t2","k":1,"l":0,"x":-0.78,"y":0.505},{"p":"g","s":"t2","k":1,"l":0,"x":-0.66,"y":0.525},{"p":"g","s":"t2","k":1,"l":0,"x":-0.54,"y":0.525},{"p":"g","s":"t2","k":1,"l":0,"x":-0.42,"y":0.505},{"p":"g","s":"t2","k":1,"l":0,"x":-0.27,"y":0.455},{"p":"g","s":"t2","k":1,"l":0,"x":-0.19,"y":0.38},{"p":"g","s":"t2","k":1,"l":0,"x":-0.12,"y":0.28},{"p":"g","s":"t2","k":1,"l":0,"x":-0.05,"y":0.17},{"p":"g","s":"t2","k":1,"l":0,"x":0,"y":0.11},
{"p":"g","s":"t3","k":1,"l":0,"x":0.955,"y":0.40},{"p":"g","s":"t3","k":1,"l":0,"x":0.88,"y":0.465},{"p":"g","s":"t3","k":1,"l":0,"x":0.78,"y":0.505},{"p":"g","s":"t3","k":1,"l":0,"x":0.66,"y":0.525},{"p":"g","s":"t3","k":1,"l":0,"x":0.54,"y":0.525},{"p":"g","s":"t3","k":1,"l":0,"x":0.42,"y":0.505},{"p":"g","s":"t3","k":1,"l":0,"x":0.27,"y":0.455},{"p":"g","s":"t3","k":1,"l":0,"x":0.19,"y":0.38},{"p":"g","s":"t3","k":1,"l":0,"x":0.12,"y":0.28},{"p":"g","s":"t3","k":1,"l":0,"x":0.05,"y":0.17},{"p":"g","s":"t3","k":1,"l":0,"x":0,"y":0.11},
{"p":"g","s":"b1","k":1,"l":0,"x":-0.955,"y":-0.40},{"p":"g","s":"b1","k":1,"l":0,"x":-0.90,"y":-0.47},{"p":"g","s":"b1","k":1,"l":0,"x":-0.80,"y":-0.55},{"p":"g","s":"b1","k":1,"l":0,"x":-0.66,"y":-0.63},{"p":"g","s":"b1","k":1,"l":0,"x":-0.50,"y":-0.685},{"p":"g","s":"b1","k":1,"l":0,"x":-0.30,"y":-0.725},{"p":"g","s":"b1","k":1,"l":0,"x":-0.15,"y":-0.738},{"p":"g","s":"b1","k":1,"l":0,"x":0,"y":-0.742},{"p":"g","s":"b1","k":1,"l":0,"x":0.15,"y":-0.738},{"p":"g","s":"b1","k":1,"l":0,"x":0.30,"y":-0.725},{"p":"g","s":"b1","k":1,"l":0,"x":0.50,"y":-0.685},{"p":"g","s":"b1","k":1,"l":0,"x":0.66,"y":-0.63},{"p":"g","s":"b1","k":1,"l":0,"x":0.80,"y":-0.55},{"p":"g","s":"b1","k":1,"l":0,"x":0.90,"y":-0.47},{"p":"g","s":"b1","k":1,"l":0,"x":0.955,"y":-0.40},
{"p":"g","s":"b2","k":1,"l":0,"x":-0.955,"y":-0.40},{"p":"g","s":"b2","k":1,"l":0,"x":-0.88,"y":-0.465},{"p":"g","s":"b2","k":1,"l":0,"x":-0.78,"y":-0.505},{"p":"g","s":"b2","k":1,"l":0,"x":-0.66,"y":-0.525},{"p":"g","s":"b2","k":1,"l":0,"x":-0.54,"y":-0.525},{"p":"g","s":"b2","k":1,"l":0,"x":-0.42,"y":-0.505},{"p":"g","s":"b2","k":1,"l":0,"x":-0.27,"y":-0.455},{"p":"g","s":"b2","k":1,"l":0,"x":-0.19,"y":-0.38},{"p":"g","s":"b2","k":1,"l":0,"x":-0.12,"y":-0.28},{"p":"g","s":"b2","k":1,"l":0,"x":-0.05,"y":-0.17},{"p":"g","s":"b2","k":1,"l":0,"x":0,"y":-0.11},
{"p":"g","s":"b3","k":1,"l":0,"x":0.955,"y":-0.40},{"p":"g","s":"b3","k":1,"l":0,"x":0.88,"y":-0.465},{"p":"g","s":"b3","k":1,"l":0,"x":0.78,"y":-0.505},{"p":"g","s":"b3","k":1,"l":0,"x":0.66,"y":-0.525},{"p":"g","s":"b3","k":1,"l":0,"x":0.54,"y":-0.525},{"p":"g","s":"b3","k":1,"l":0,"x":0.42,"y":-0.505},{"p":"g","s":"b3","k":1,"l":0,"x":0.27,"y":-0.455},{"p":"g","s":"b3","k":1,"l":0,"x":0.19,"y":-0.38},{"p":"g","s":"b3","k":1,"l":0,"x":0.12,"y":-0.28},{"p":"g","s":"b3","k":1,"l":0,"x":0.05,"y":-0.17},{"p":"g","s":"b3","k":1,"l":0,"x":0,"y":-0.11},
{"p":"g","s":"g","k":2,"l":1,"x":-0.49,"y":0},{"p":"g","s":"g","k":2,"l":1,"x":-0.49,"y":0.25},{"p":"g","s":"g","k":2,"l":1,"x":-0.485,"y":0.37},{"p":"g","s":"g","k":2,"l":1,"x":-0.46,"y":0.435},{"p":"g","s":"g","k":2,"l":1,"x":-0.40,"y":0.46},{"p":"g","s":"g","k":2,"l":1,"x":-0.27,"y":0.46},{"p":"g","s":"g","k":2,"l":1,"x":-0.15,"y":0.43},{"p":"g","s":"g","k":2,"l":1,"x":0,"y":0.415},{"p":"g","s":"g","k":2,"l":1,"x":0.15,"y":0.43},{"p":"g","s":"g","k":2,"l":1,"x":0.27,"y":0.46},{"p":"g","s":"g","k":2,"l":1,"x":0.40,"y":0.46},{"p":"g","s":"g","k":2,"l":1,"x":0.46,"y":0.435},{"p":"g","s":"g","k":2,"l":1,"x":0.49,"y":0.37},{"p":"g","s":"g","k":2,"l":1,"x":0.495,"y":0.25},{"p":"g","s":"g","k":2,"l":1,"x":0.495,"y":0},{"p":"g","s":"g","k":2,"l":1,"x":0.495,"y":-0.25},{"p":"g","s":"g","k":2,"l":1,"x":0.49,"y":-0.37},{"p":"g","s":"g","k":2,"l":1,"x":0.46,"y":-0.435},{"p":"g","s":"g","k":2,"l":1,"x":0.40,"y":-0.455},{"p":"g","s":"g","k":2,"l":1,"x":0.27,"y":-0.455},{"p":"g","s":"g","k":2,"l":1,"x":0.15,"y":-0.425},{"p":"g","s":"g","k":2,"l":1,"x":0,"y":-0.41},{"p":"g","s":"g","k":2,"l":1,"x":-0.15,"y":-0.425},{"p":"g","s":"g","k":2,"l":1,"x":-0.27,"y":-0.455},{"p":"g","s":"g","k":2,"l":1,"x":-0.40,"y":-0.455},{"p":"g","s":"g","k":2,"l":1,"x":-0.46,"y":-0.435},{"p":"g","s":"g","k":2,"l":1,"x":-0.485,"y":-0.37},{"p":"g","s":"g","k":2,"l":1,"x":-0.49,"y":-0.25},
{"p":"g","k":0,"x":0,"y":0.75},{"p":"g","k":0,"x":0,"y":-0.742},{"p":"g","k":0,"x":0,"y":0.11},{"p":"g","k":0,"x":0,"y":0},{"p":"g","k":0,"x":0,"y":-0.11},{"p":"g","k":0,"x":-0.27,"y":0.458},{"p":"g","k":0,"x":0.27,"y":0.458},{"p":"g","k":0,"x":-0.27,"y":-0.455},{"p":"g","k":0,"x":0.27,"y":-0.455},

{"p":"h","s":"h","k":1,"l":0,"x":-1.5,"y":0},{"p":"h","s":"h","k":1,"l":0,"x":1.5,"y":0},
{"p":"h","s":"v","k":2,"l":0,"x":0,"y":-1.5},{"p":"h","s":"v","k":2,"l":0,"x":0,"y":1.5},
{"p":"h","s":"g","k":2,"l":1,"x":-0.50,"y":0},{"p":"h","s":"g","k":2,"l":1,"x":-0.50,"y":0.35},{"p":"h","s":"g","k":2,"l":1,"x":-0.49,"y":0.45},{"p":"h","s":"g","k":2,"l":1,"x":-0.46,"y":0.50},{"p":"h","s":"g","k":2,"l":1,"x":-0.40,"y":0.522},{"p":"h","s":"g","k":2,"l":1,"x":-0.14,"y":0.525},{"p":"h","s":"g","k":2,"l":1,"x":0,"y":0.525},{"p":"h","s":"g","k":2,"l":1,"x":0.14,"y":0.525},{"p":"h","s":"g","k":2,"l":1,"x":0.40,"y":0.522},{"p":"h","s":"g","k":2,"l":1,"x":0.46,"y":0.50},{"p":"h","s":"g","k":2,"l":1,"x":0.49,"y":0.45},{"p":"h","s":"g","k":2,"l":1,"x":0.495,"y":0.35},{"p":"h","s":"g","k":2,"l":1,"x":0.495,"y":0},{"p":"h","s":"g","k":2,"l":1,"x":0.495,"y":-0.35},{"p":"h","s":"g","k":2,"l":1,"x":0.49,"y":-0.45},{"p":"h","s":"g","k":2,"l":1,"x":0.46,"y":-0.505},{"p":"h","s":"g","k":2,"l":1,"x":0.40,"y":-0.527},{"p":"h","s":"g","k":2,"l":1,"x":0.14,"y":-0.53},{"p":"h","s":"g","k":2,"l":1,"x":0,"y":-0.53},{"p":"h","s":"g","k":2,"l":1,"x":-0.14,"y":-0.53},{"p":"h","s":"g","k":2,"l":1,"x":-0.40,"y":-0.527},{"p":"h","s":"g","k":2,"l":1,"x":-0.46,"y":-0.505},{"p":"h","s":"g","k":2,"l":1,"x":-0.49,"y":-0.45},{"p":"h","s":"g","k":2,"l":1,"x":-0.50,"y":-0.35},
{"p":"h","s":"t1","k":1,"l":0,"x":-0.14,"y":0.525},{"p":"h","s":"t1","k":1,"l":0,"x":-0.155,"y":0.575},{"p":"h","s":"t1","k":1,"l":0,"x":-0.12,"y":0.625},{"p":"h","s":"t1","k":1,"l":0,"x":-0.06,"y":0.65},{"p":"h","s":"t1","k":1,"l":0,"x":0,"y":0.655},{"p":"h","s":"t1","k":1,"l":0,"x":0.06,"y":0.65},{"p":"h","s":"t1","k":1,"l":0,"x":0.12,"y":0.625},{"p":"h","s":"t1","k":1,"l":0,"x":0.155,"y":0.575},{"p":"h","s":"t1","k":1,"l":0,"x":0.14,"y":0.525},
{"p":"h","s":"t2","k":1,"l":0,"x":-0.14,"y":0.525},{"p":"h","s":"t2","k":1,"l":0,"x":-0.08,"y":0.46},{"p":"h","s":"t2","k":1,"l":0,"x":-0.03,"y":0.41},{"p":"h","s":"t2","k":1,"l":0,"x":0,"y":0.40},{"p":"h","s":"t2","k":1,"l":0,"x":0.03,"y":0.41},{"p":"h","s":"t2","k":1,"l":0,"x":0.08,"y":0.46},{"p":"h","s":"t2","k":1,"l":0,"x":0.14,"y":0.525},
{"p":"h","s":"b1","k":1,"l":0,"x":-0.14,"y":-0.53},{"p":"h","s":"b1","k":1,"l":0,"x":-0.155,"y":-0.58},{"p":"h","s":"b1","k":1,"l":0,"x":-0.12,"y":-0.63},{"p":"h","s":"b1","k":1,"l":0,"x":-0.06,"y":-0.652},{"p":"h","s":"b1","k":1,"l":0,"x":0,"y":-0.655},{"p":"h","s":"b1","k":1,"l":0,"x":0.06,"y":-0.652},{"p":"h","s":"b1","k":1,"l":0,"x":0.12,"y":-0.63},{"p":"h","s":"b1","k":1,"l":0,"x":0.155,"y":-0.58},{"p":"h","s":"b1","k":1,"l":0,"x":0.14,"y":-0.53},
{"p":"h","s":"b2","k":1,"l":0,"x":-0.14,"y":-0.53},{"p":"h","s":"b2","k":1,"l":0,"x":-0.08,"y":-0.465},{"p":"h","s":"b2","k":1,"l":0,"x":-0.03,"y":-0.41},{"p":"h","s":"b2","k":1,"l":0,"x":0,"y":-0.40},{"p":"h","s":"b2","k":1,"l":0,"x":0.03,"y":-0.41},{"p":"h","s":"b2","k":1,"l":0,"x":0.08,"y":-0.465},{"p":"h","s":"b2","k":1,"l":0,"x":0.14,"y":-0.53},
{"p":"h","k":0,"x":0,"y":0},{"p":"h","k":0,"x":0,"y":0.655},{"p":"h","k":0,"x":0,"y":0.40},{"p":"h","k":0,"x":-0.14,"y":0.525},{"p":"h","k":0,"x":0.14,"y":0.525},{"p":"h","k":0,"x":0,"y":-0.655},{"p":"h","k":0,"x":0,"y":-0.40},{"p":"h","k":0,"x":-0.14,"y":-0.53},{"p":"h","k":0,"x":0.14,"y":-0.53},

{"p":"i","s":"h","k":1,"l":0,"x":-1.5,"y":0},{"p":"i","s":"h","k":1,"l":0,"x":1.5,"y":0},
{"p":"i","s":"v","k":2,"l":0,"x":0,"y":-1.5},{"p":"i","s":"v","k":2,"l":0,"x":0,"y":1.5},
{"p":"i","s":"g","k":2,"l":1,"x":-0.49,"y":0},{"p":"i","s":"g","k":2,"l":1,"x":-0.49,"y":0.35},{"p":"i","s":"g","k":2,"l":1,"x":-0.48,"y":0.46},{"p":"i","s":"g","k":2,"l":1,"x":-0.45,"y":0.515},{"p":"i","s":"g","k":2,"l":1,"x":-0.38,"y":0.54},{"p":"i","s":"g","k":2,"l":1,"x":-0.2,"y":0.545},{"p":"i","s":"g","k":2,"l":1,"x":0,"y":0.545},{"p":"i","s":"g","k":2,"l":1,"x":0.2,"y":0.545},{"p":"i","s":"g","k":2,"l":1,"x":0.39,"y":0.54},{"p":"i","s":"g","k":2,"l":1,"x":0.46,"y":0.515},{"p":"i","s":"g","k":2,"l":1,"x":0.50,"y":0.46},{"p":"i","s":"g","k":2,"l":1,"x":0.51,"y":0.35},{"p":"i","s":"g","k":2,"l":1,"x":0.51,"y":0},{"p":"i","s":"g","k":2,"l":1,"x":0.51,"y":-0.35},{"p":"i","s":"g","k":2,"l":1,"x":0.50,"y":-0.47},{"p":"i","s":"g","k":2,"l":1,"x":0.46,"y":-0.535},{"p":"i","s":"g","k":2,"l":1,"x":0.39,"y":-0.56},{"p":"i","s":"g","k":2,"l":1,"x":0.2,"y":-0.565},{"p":"i","s":"g","k":2,"l":1,"x":0,"y":-0.565},{"p":"i","s":"g","k":2,"l":1,"x":-0.2,"y":-0.565},{"p":"i","s":"g","k":2,"l":1,"x":-0.38,"y":-0.56},{"p":"i","s":"g","k":2,"l":1,"x":-0.45,"y":-0.535},{"p":"i","s":"g","k":2,"l":1,"x":-0.48,"y":-0.47},{"p":"i","s":"g","k":2,"l":1,"x":-0.49,"y":-0.35},
{"p":"i","k":0,"x":0,"y":0}
]},
"facet":{"field":"p","type":"nominal","title":null,"header":{"labelExpr":"'(' + datum.value + ')\u2800'","labelAnchor":"end","labelFont":"Liberation Serif","labelFontWeight":"bold","labelFontSize":15,"labelColor":"#000","labelPadding":4}},
"columns":3,
"spacing":{"column":54.5,"row":56},
"bounds":"flush",
"resolve":{"axis":{"x":"independent","y":"independent"}},
"spec":{
"width":163,"height":162,
"resolve":{"axis":{"x":"independent","y":"independent"}},
"layer":[
{"transform":[{"filter":"datum.k==1 && datum.l==0"}],"mark":{"type":"line","interpolate":"cardinal"},
"encoding":{
"x":{"field":"x","type":"quantitative","scale":{"domain":[-1.56,1.56],"nice":false,"zero":false},"axis":{"values":[-1.5,-1.4,-1.3,-1.2,-1.1,-1,-0.9,-0.8,-0.7,-0.6,-0.5,-0.4,-0.3,-0.2,-0.1,0,0.1,0.2,0.3,0.4,0.5,0.6,0.7,0.8,0.9,1,1.1,1.2,1.3,1.4,1.5],"format":".1f","title":"x","labelOverlap":false,"labelExpr":"abs(datum.value*2-round(datum.value*2))<0.001 ? datum.label : ''","tickSize":{"condition":{"test":"abs(datum.value*2-round(datum.value*2))<0.001","value":-4},"value":-2}}},
"y":{"field":"y","type":"quantitative","scale":{"domain":[-1.55,1.55],"nice":false,"zero":false},"axis":{"values":[-1.5,-1.4,-1.3,-1.2,-1.1,-1,-0.9,-0.8,-0.7,-0.6,-0.5,-0.4,-0.3,-0.2,-0.1,0,0.1,0.2,0.3,0.4,0.5,0.6,0.7,0.8,0.9,1,1.1,1.2,1.3,1.4,1.5],"format":".1f","title":"y","labelOverlap":false,"labelExpr":"abs(datum.value*2-round(datum.value*2))<0.001 ? datum.label : ''","tickSize":{"condition":{"test":"abs(datum.value*2-round(datum.value*2))<0.001","value":-4},"value":-2}}},
"detail":{"field":"s"},"order":{"value":null},
"color":{"value":"#2020ff"},"strokeWidth":{"value":1.1}}},
{"transform":[{"filter":"datum.k==2 && datum.l==0"}],"mark":{"type":"line","interpolate":"cardinal"},
"encoding":{
"x":{"field":"x","type":"quantitative","scale":{"domain":[-1.56,1.56],"nice":false,"zero":false},"axis":null},
"y":{"field":"y","type":"quantitative","scale":{"domain":[-1.55,1.55],"nice":false,"zero":false},"axis":null},
"detail":{"field":"s"},"order":{"value":null},
"color":{"value":"#3aaa3a"},"strokeWidth":{"value":1.1}}},
{"transform":[{"filter":"datum.k==3"}],"mark":{"type":"line","interpolate":"linear"},
"encoding":{
"x":{"field":"x","type":"quantitative","scale":{"domain":[-1.56,1.56],"nice":false,"zero":false},"axis":null},
"y":{"field":"y","type":"quantitative","scale":{"domain":[-1.55,1.55],"nice":false,"zero":false},"axis":null},
"detail":{"field":"s"},"order":{"value":null},
"color":{"value":"#8c8cff"},"strokeWidth":{"value":2.6}}},
{"transform":[{"filter":"datum.l==1"}],"mark":{"type":"line","interpolate":"cardinal-closed"},
"encoding":{
"x":{"field":"x","type":"quantitative","scale":{"domain":[-1.56,1.56],"nice":false,"zero":false},"axis":null},
"y":{"field":"y","type":"quantitative","scale":{"domain":[-1.55,1.55],"nice":false,"zero":false},"axis":null},
"detail":{"field":"s"},"order":{"value":null},
"color":{"field":"k","type":"nominal","scale":{"domain":[1,2],"range":["#2020ff","#3aaa3a"]},"legend":null},"strokeWidth":{"value":1.1}}},
{"transform":[{"filter":"datum.k==0"}],"mark":{"type":"point","shape":"circle","filled":true,"size":26,"color":"#ff1a1a","opacity":1},
"encoding":{
"x":{"field":"x","type":"quantitative","scale":{"domain":[-1.56,1.56],"nice":false,"zero":false},"axis":{"orient":"top","values":[-1.5,-1.4,-1.3,-1.2,-1.1,-1,-0.9,-0.8,-0.7,-0.6,-0.5,-0.4,-0.3,-0.2,-0.1,0,0.1,0.2,0.3,0.4,0.5,0.6,0.7,0.8,0.9,1,1.1,1.2,1.3,1.4,1.5],"labels":false,"title":null,"tickSize":{"condition":{"test":"abs(datum.value*2-round(datum.value*2))<0.001","value":-4},"value":-2}}},
"y":{"field":"y","type":"quantitative","scale":{"domain":[-1.55,1.55],"nice":false,"zero":false},"axis":{"orient":"right","values":[-1.5,-1.4,-1.3,-1.2,-1.1,-1,-0.9,-0.8,-0.7,-0.6,-0.5,-0.4,-0.3,-0.2,-0.1,0,0.1,0.2,0.3,0.4,0.5,0.6,0.7,0.8,0.9,1,1.1,1.2,1.3,1.4,1.5],"labels":false,"title":null,"tickSize":{"condition":{"test":"abs(datum.value*2-round(datum.value*2))<0.001","value":-4},"value":-2}}}}}
]
},
"config":{
"view":{"stroke":null},
"axis":{"grid":false,"domain":true,"domainColor":"#8c8c8c","domainWidth":1,"ticks":true,"tickColor":"#999","labelFont":"Liberation Sans","labelFontSize":8.5,"labelColor":"#444","titleFont":"Liberation Sans","titleFontSize":10,"titleFontWeight":"normal","titleColor":"#333"},
"axisX":{"labelPadding":6,"titlePadding":0},
"axisY":{"labelPadding":6,"titleAngle":0,"titleAlign":"right","titleBaseline":"middle","titlePadding":4}
}
}
